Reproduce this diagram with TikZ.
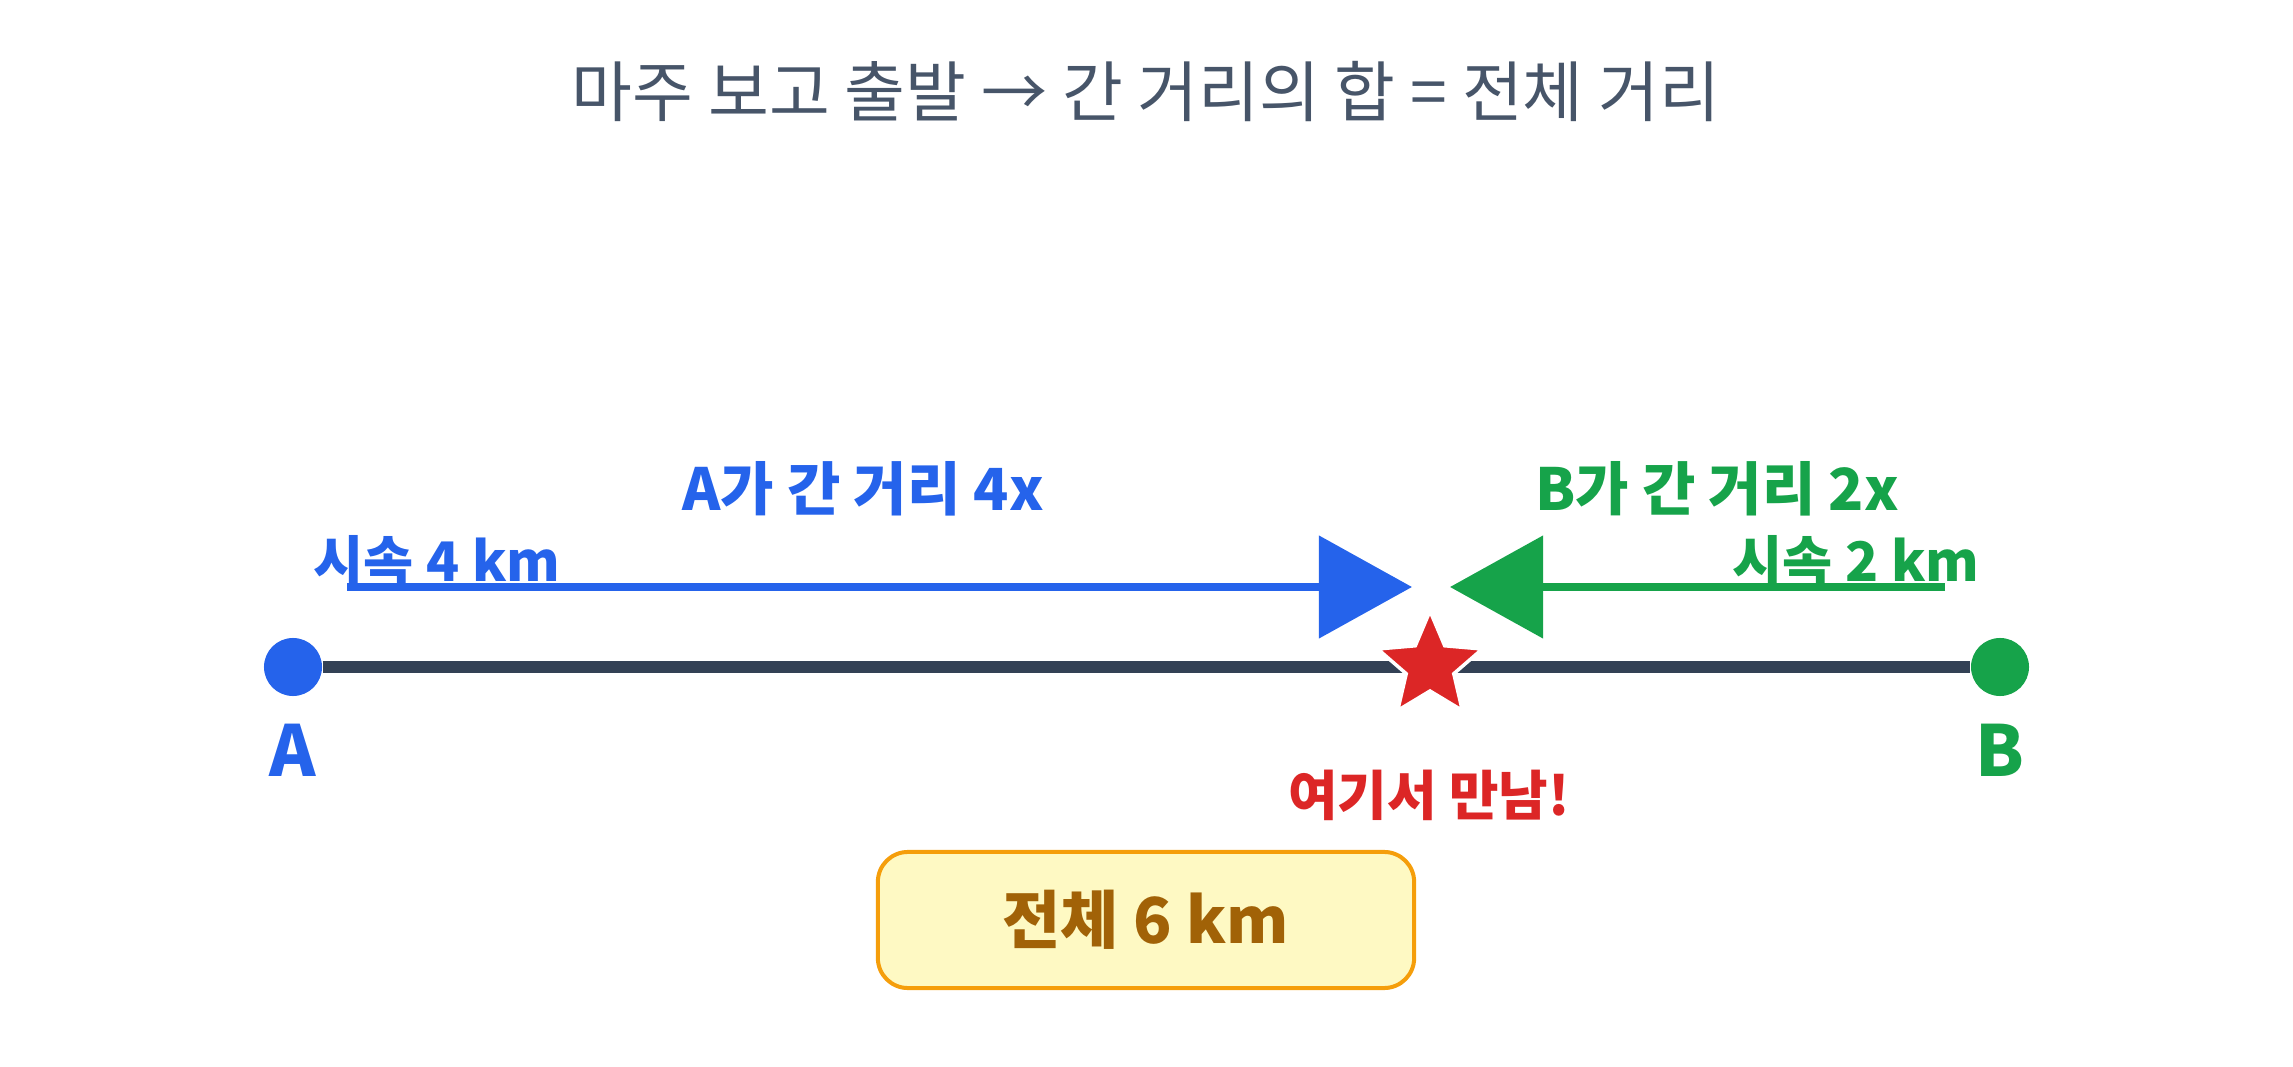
\documentclass[tikz,border=0pt]{standalone}
\usepackage{fontspec}
\setmainfont{Noto Sans CJK KR}
\usetikzlibrary{arrows.meta}
\definecolor{ablue}{HTML}{2563EB}
\definecolor{bgreen}{HTML}{16A34A}
\definecolor{meetred}{HTML}{DC2626}
\definecolor{roadgray}{HTML}{334155}
\definecolor{titlegray}{HTML}{475569}
\definecolor{boxfill}{HTML}{FEF9C3}
\definecolor{boxline}{HTML}{F59E0B}
\definecolor{boxtext}{HTML}{A16207}

\begin{document}
\begin{tikzpicture}[x=0.01cm,y=-0.01cm,
  dot/.style={circle,inner sep=0pt,minimum size=0.58cm},
  big/.style={font=\bfseries\fontsize{16.5}{20}\selectfont},
  speed/.style={font=\bfseries\fontsize{15.5}{19}\selectfont},
  move/.style={line width=0.08cm,-{Triangle[length=0.93cm,width=1.01cm]}}]
\useasboundingbox (0,0) rectangle (2293,1067);

% Title
\node[text=titlegray,font=\fontsize{18.8}{22}\selectfont] (title) at (1146,92)
  {마주 보고 출발 → 간 거리의 합 = 전체 거리};

% Road between A and B
\node[dot,fill=ablue] (ptA) at (293,667) {};
\node[dot,fill=bgreen] (ptB) at (2000,667) {};
\draw[roadgray,line width=0.12cm] (ptA) -- (ptB);
\node[text=ablue,font=\bfseries\fontsize{20}{24}\selectfont] (labA) at (293,750) {A};
\node[text=bgreen,font=\bfseries\fontsize{20}{24}\selectfont] (labB) at (2000,750) {B};

% Moving toward each other
\coordinate (startA) at (347,587);
\coordinate (endA) at (1412,587);
\coordinate (startB) at (1945,587);
\coordinate (endB) at (1450,587);
\node[speed,text=ablue] (spdA) at (437,561) {시속 4 km};
\node[speed,text=bgreen] (spdB) at (1856,561) {시속 2 km};
\draw[move,ablue] (startA) -- (endA);
\draw[move,bgreen] (startB) -- (endB);
\node[big,text=ablue] (distA) at (863,489) {A가 간 거리 4x};
\node[big,text=bgreen] (distB) at (1717,489) {B가 간 거리 2x};

% Meeting point
\coordinate (meet) at (1430,666);
\draw[fill=meetred,draw=white,line width=0.035cm,line join=miter,shift={(meet)}]
  (-90:55) -- (-54:25) -- (-18:55) -- (18:25) -- (54:55) -- (90:25)
  -- (126:55) -- (162:25) -- (198:55) -- (234:25) -- cycle;
\node[text=meetred,font=\bfseries\fontsize{15.3}{18}\selectfont] (meetlab) at (1429,795) {여기서 만남!};

% Total distance
\node[draw=boxline,fill=boxfill,line width=0.04cm,rounded corners=0.3cm,
  minimum width=5.36cm,minimum height=1.36cm,text=boxtext,
  font=\bfseries\fontsize{18}{22}\selectfont] (total) at (1146,920) {전체 6 km};
\end{tikzpicture}
\end{document}
